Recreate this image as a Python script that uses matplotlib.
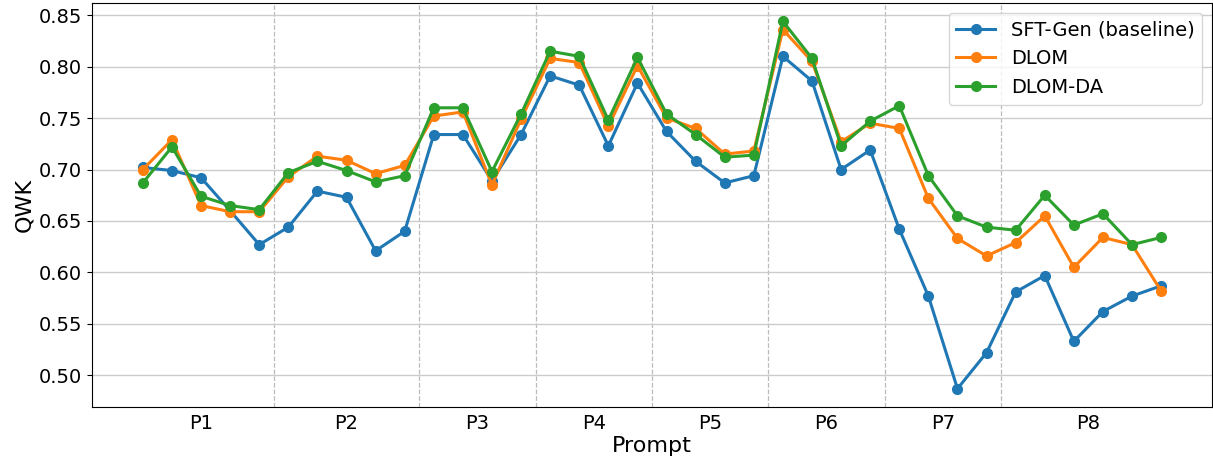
import numpy as np
import matplotlib
matplotlib.use('Agg')
import matplotlib.pyplot as plt

# prompts and number of points in each group
prompts = ['P1', 'P2', 'P3', 'P4', 'P5', 'P6', 'P7', 'P8']
group_sizes = [5, 5, 4, 4, 4, 4, 4, 6]

sft_gen = [0.702, 0.699, 0.692, 0.660, 0.627,
           0.644, 0.679, 0.673, 0.621, 0.640,
           0.734, 0.734, 0.689, 0.734,
           0.791, 0.782, 0.723, 0.784,
           0.737, 0.708, 0.687, 0.694,
           0.810, 0.786, 0.700, 0.719,
           0.642, 0.577, 0.487, 0.522,
           0.581, 0.597, 0.533, 0.562, 0.577, 0.587]

dlom = [0.700, 0.729, 0.665, 0.659, 0.659,
        0.693, 0.713, 0.709, 0.696, 0.704,
        0.752, 0.756, 0.685, 0.749,
        0.808, 0.804, 0.742, 0.801,
        0.750, 0.740, 0.715, 0.718,
        0.836, 0.805, 0.727, 0.745,
        0.740, 0.672, 0.633, 0.616,
        0.629, 0.655, 0.605, 0.634, 0.627, 0.582]

dlom_da = [0.687, 0.722, 0.674, 0.665, 0.661,
           0.697, 0.708, 0.699, 0.688, 0.694,
           0.760, 0.760, 0.698, 0.754,
           0.815, 0.810, 0.748, 0.809,
           0.754, 0.734, 0.712, 0.714,
           0.844, 0.808, 0.723, 0.747,
           0.762, 0.694, 0.655, 0.644,
           0.641, 0.675, 0.646, 0.657, 0.627, 0.634]

x = np.arange(len(sft_gen))
bounds = np.cumsum(group_sizes)
starts = bounds - np.array(group_sizes)
centers = (starts + bounds - 1) / 2

fig, ax = plt.subplots(figsize=(12.13, 4.61), dpi=100)
fig.subplots_adjust(left=0.0758, right=0.9992, bottom=0.117, top=0.9935)

ax.plot(x, sft_gen, '-o', color='#1f77b4', lw=2.2, ms=7, label='SFT-Gen (baseline)')
ax.plot(x, dlom, '-o', color='#ff7f0e', lw=2.2, ms=7, label='DLOM')
ax.plot(x, dlom_da, '-o', color='#2ca02c', lw=2.2, ms=7, label='DLOM-DA')

# group separators
for b in bounds[:-1]:
    ax.axvline(b - 0.5, color='#bbbbbb', ls='--', lw=0.9, zorder=0)

ax.yaxis.grid(True, color='#cccccc', lw=1.0)
ax.set_axisbelow(True)

ax.set_xticks(centers)
ax.set_xticklabels(prompts, fontsize=14)
ax.tick_params(axis='x', length=0, pad=5)
ax.tick_params(axis='y', labelsize=14)
ax.set_yticks([0.50, 0.55, 0.60, 0.65, 0.70, 0.75, 0.80, 0.85])

ax.set_xlabel('Prompt', fontsize=16, labelpad=2)
ax.set_ylabel('QWK', fontsize=16, labelpad=3)
ax.legend(loc='upper right', fontsize=14)

fig.savefig('out.png', dpi=100)
